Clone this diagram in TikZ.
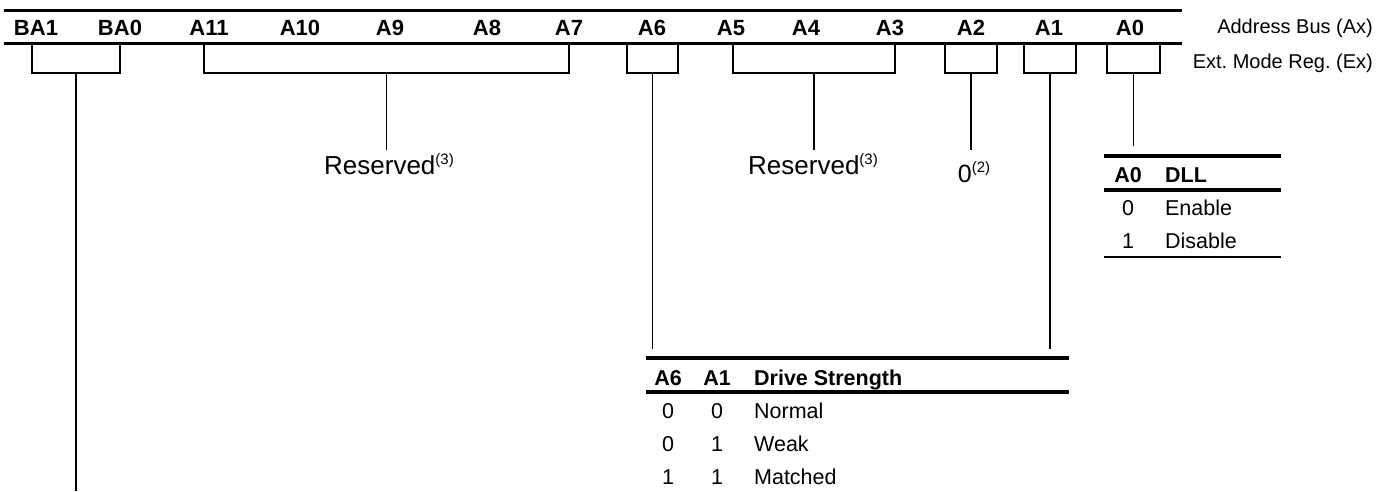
\documentclass[tikz,border=0pt]{standalone}
\usepackage{fontspec}
\setmainfont{Liberation Sans}
\usetikzlibrary{positioning}
\newcommand\supref[1]{\raisebox{0.38em}{\fontsize{15}{15}\selectfont(#1)}}

\begin{document}
\frenchspacing
\begin{tikzpicture}[x = 1pt, y = -1pt, line width = 1.6pt,
  bit/.style = {font = \fontsize{22}{26}\selectfont\bfseries, anchor = base},
  side/.style = {font = \fontsize{20}{24}\selectfont, anchor = base east},
  note/.style = {font = \fontsize{26}{30}\selectfont, anchor = base, inner sep = 2pt},
  cell/.style = {font = \fontsize{21.5}{24}\selectfont, anchor = base},
  hcell/.style = {font = \fontsize{21.5}{24}\selectfont\bfseries, anchor = base},
  rulebold/.style = {line width = 4pt}]
\useasboundingbox (0, 0) rectangle (1384, 491);

\draw[line width = 3pt] (4, 10) -- (1182, 10);
\draw[line width = 2.5pt] (4, 43.5) -- (1182, 43.5);
\foreach \name/\x in {BA1/36, BA0/120, A11/209, A10/300, A9/390, A8/487, A7/569,
  A6/652, A5/731, A4/806, A3/890, A2/971, A1/1049, A0/1130}
  \node[bit] (l\name) at (\x, 35) {\name};
\node[side] (bus) at (1377, 33) {Address Bus (Ax)};
\node[side] (emr) at (1377, 68) {Ext. Mode Reg. (Ex)};

\foreach \n/\a/\b in {ba/32/120, res/204/569, six/627/678, mid/733/895,
  two/945/997, one/1024/1076, zero/1107/1160} {
  \draw[line width = 1.9pt] (\a, 43) |- (\b, 73) -- (\b, 43);
  \coordinate (\n) at ({(\a + \b) / 2}, 73);
}

\node[note] (resHi) at (389, 174) {Reserved\supref{3}};
\node[note] (resLo) at (813, 174) {Reserved\supref{3}};
\node[note, font = \fontsize{25}{28}\selectfont] (zeroNote) at (974, 182) {0\supref{2}};
\coordinate (baEnd) at (76, 491);
\coordinate (dllTop) at (1133.5, 146);
\coordinate (driveA6) at (652.5, 349);
\coordinate (driveA1) at (1050, 349);

\draw (ba) -- (baEnd);
\draw (res) -- (res |- resHi.north);
\draw (mid) -- (mid |- resLo.north);
\draw (two) -- (two |- resHi.north);
\draw (zero) -- (dllTop);
\draw (six) -- (driveA6);
\draw (one) -- (driveA1);

\draw[rulebold] (1104, 156) -- (1281, 156);
\node[hcell] (dllBit) at (1128, 182) {A0};
\node[hcell, anchor = base west] (dllHead) at (1161, 182) {DLL};
\draw[rulebold] (1104, 190) -- (1281, 190);
\foreach \v/\t [count = \i] in {0/Enable, 1/Disable} {
  \node[cell] (dllV\i) at (1128, 182 + 33 * \i) {\v};
  \node[cell, anchor = base west] (dllT\i) at (1161, 182 + 33 * \i) {\t};
}
\draw[line width = 1.3pt] (1104, 257) -- (1281, 257);

\draw[rulebold] (646, 358) -- (1069, 358);
\node[hcell] (drvSix) at (668, 385) {A6};
\node[hcell] (drvOne) at (717, 385) {A1};
\node[hcell, anchor = base west] (drvHead) at (750, 385) {Drive Strength};
\draw[rulebold] (646, 392) -- (1069, 392);
\foreach \p/\q/\t [count = \i] in {0/0/Normal, 0/1/Weak, 1/1/Matched} {
  \node[cell] (drvP\i) at (668, 385 + 33 * \i) {\p};
  \node[cell] (drvQ\i) at (717, 385 + 33 * \i) {\q};
  \node[cell, anchor = base west] (drvT\i) at (750, 385 + 33 * \i) {\t};
}
\end{tikzpicture}
\end{document}
